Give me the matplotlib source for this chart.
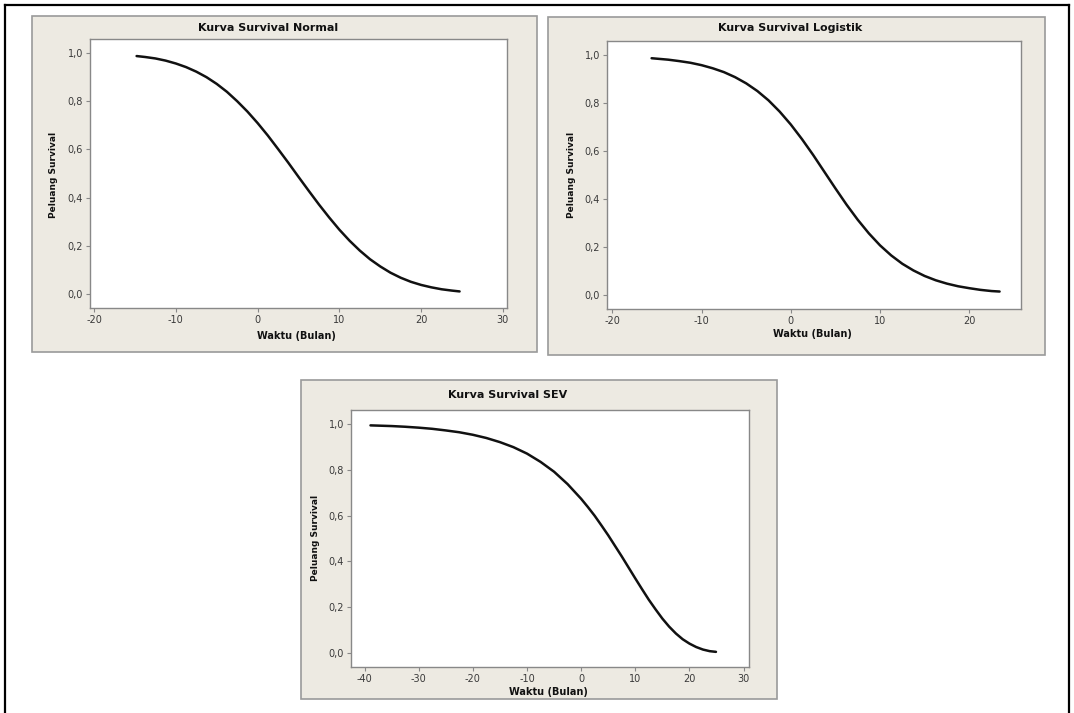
import matplotlib.pyplot as plt
from matplotlib.patches import Rectangle
from matplotlib.lines import Line2D

# --- data ---
normal_x = [-14.8, -13.75, -12.5, -11.25, -10, -8.75, -7.5, -6.25, -5, -3.75, -2.5, -1.25, 0,
            1.25, 2.5, 3.75, 5, 6.25, 7.5, 8.75, 10, 11.25, 12.5, 13.75, 15, 16.25, 17.5,
            18.75, 20, 21.25, 22.5, 23.75, 24.7]
normal_y = [0.989, 0.985, 0.979, 0.970, 0.958, 0.943, 0.924, 0.901, 0.873, 0.840, 0.801, 0.758,
            0.710, 0.658, 0.602, 0.545, 0.486, 0.428, 0.371, 0.317, 0.266, 0.220, 0.179, 0.143,
            0.113, 0.087, 0.066, 0.049, 0.036, 0.026, 0.018, 0.0125, 0.009]

logis_x = [-15.6, -13.75, -12.5, -11.25, -10, -8.75, -7.5, -6.25, -5, -3.75, -2.5, -1.25, 0,
           1.25, 2.5, 3.75, 5, 6.25, 7.5, 8.75, 10, 11.25, 12.5, 13.75, 15, 16.25, 17.5,
           18.75, 20, 21.25, 22.5, 23.4]
logis_y = [0.988, 0.982, 0.976, 0.969, 0.959, 0.946, 0.930, 0.909, 0.883, 0.851, 0.812, 0.765,
           0.711, 0.650, 0.584, 0.514, 0.444, 0.376, 0.313, 0.256, 0.206, 0.164, 0.129, 0.101,
           0.078, 0.060, 0.046, 0.035, 0.027, 0.020, 0.015, 0.013]

sev_x = [-38.9, -35, -32.5, -30, -27.5, -25, -22.5, -20, -17.5, -15, -12.5, -10, -7.5, -5,
         -2.5, 0, 1.25, 2.5, 3.75, 5, 6.25, 7.5, 8.75, 10, 11.25, 12.5, 13.75, 15, 16.25,
         17.5, 18.75, 20, 21.25, 22.5, 23.75, 24.9]
sev_y = [0.993, 0.990, 0.987, 0.983, 0.978, 0.971, 0.963, 0.952, 0.938, 0.920, 0.898, 0.870,
         0.834, 0.791, 0.737, 0.673, 0.637, 0.599, 0.557, 0.514, 0.468, 0.422, 0.374, 0.326,
         0.279, 0.233, 0.191, 0.151, 0.116, 0.086, 0.061, 0.042, 0.027, 0.016, 0.009, 0.006]

y_ticks = [0.0, 0.2, 0.4, 0.6, 0.8, 1.0]
y_labels = ['0,0', '0,2', '0,4', '0,6', '0,8', '1,0']

W, H = 1074, 713
BEIGE = '#EDEAE2'
fig = plt.figure(figsize=(W / 100, H / 100), dpi=100)
fig.patch.set_facecolor('white')


def fx(px):
    return px / W


def fy(py):
    return 1 - py / H


def panel(box, plot, title, tpos, xlpos, ylpos, xs, ys, xlim, xticks):
    x0, y0, x1, y1 = box
    fig.add_artist(Rectangle((fx(x0), fy(y1)), fx(x1 - x0), (y1 - y0) / H,
                             transform=fig.transFigure, facecolor=BEIGE,
                             edgecolor='#9a9a9a', linewidth=1.2, zorder=-5))
    px0, py0, px1, py1 = plot
    ax = fig.add_axes([fx(px0), fy(py1), fx(px1 - px0), (py1 - py0) / H])
    ax.set_facecolor('white')
    ax.plot(xs, ys, color='#111111', linewidth=1.8, solid_capstyle='round')
    ax.set_xlim(*xlim)
    ax.set_ylim(-0.06, 1.06)
    ax.set_yticks(y_ticks)
    ax.set_yticklabels(y_labels)
    ax.set_xticks(xticks)
    ax.set_xticklabels([str(t) for t in xticks])
    for s in ax.spines.values():
        s.set_color('#888888')
        s.set_linewidth(1.0)
    ax.tick_params(direction='out', length=3, width=0.8, color='#888888',
                   labelsize=7, labelcolor='#3a3a3a', pad=2)
    fig.text(fx(tpos[0]), fy(tpos[1]), title, ha='center', va='center',
             fontsize=8, fontweight='bold', color='#111111')
    fig.text(fx(xlpos[0]), fy(xlpos[1]), 'Waktu (Bulan)', ha='center', va='center',
             fontsize=7, fontweight='bold', color='#111111')
    fig.text(fx(ylpos[0]), fy(ylpos[1]), 'Peluang Survival', ha='center', va='center',
             rotation=90, fontsize=6.5, fontweight='bold', color='#111111')
    return ax


panel((32, 16, 537, 352), (90, 39, 507, 308), 'Kurva Survival Normal',
      (268, 28), (296, 336), (54, 175), normal_x, normal_y,
      (-20.5, 30.5), [-20, -10, 0, 10, 20, 30])

panel((548, 17, 1045, 355), (607, 41, 1021, 309), 'Kurva Survival Logistik',
      (790, 28), (812, 334), (572, 175), logis_x, logis_y,
      (-20.6, 25.8), [-20, -10, 0, 10, 20])

panel((301, 380, 777, 699), (351, 410, 749, 667), 'Kurva Survival SEV',
      (508, 395), (548, 692), (315, 538), sev_x, sev_y,
      (-42.5, 31), [-40, -30, -20, -10, 0, 10, 20, 30])

# outer black frame (bottom edge falls outside the picture)
for xs, ys in [([5, 5], [H + 5, 5]), ([5, 1069], [5, 5]), ([1069, 1069], [5, H + 5])]:
    fig.add_artist(Line2D([fx(x) for x in xs], [fy(y) for y in ys],
                          transform=fig.transFigure, color='black', linewidth=1.6))

fig.savefig('out.png', dpi=100)
